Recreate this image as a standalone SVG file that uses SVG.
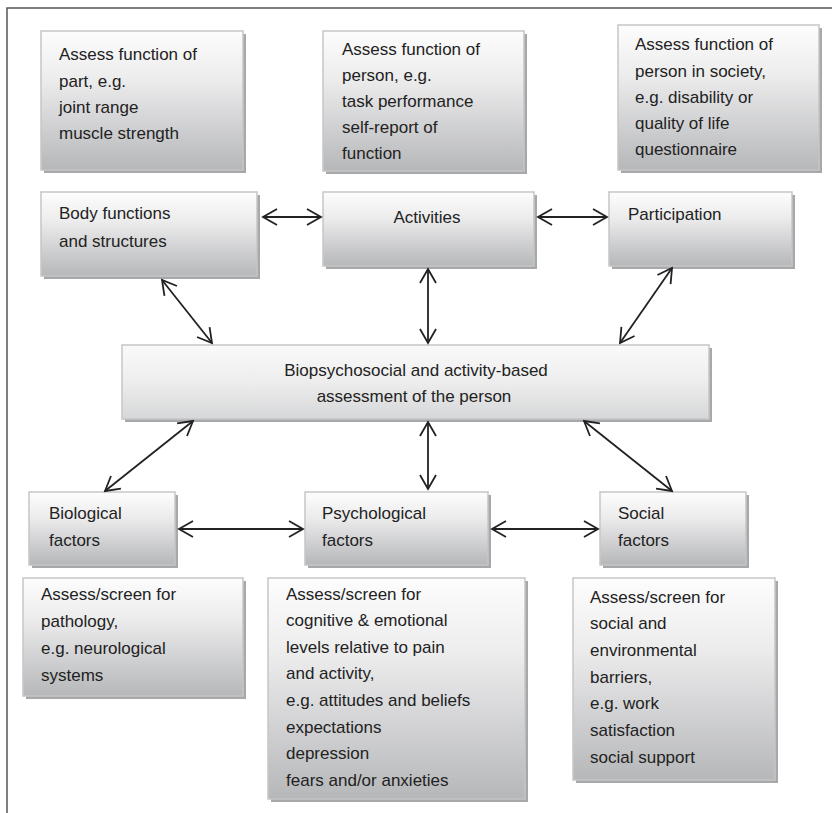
<svg xmlns="http://www.w3.org/2000/svg" width="832" height="813" viewBox="0 0 832 813">
  <style>
    .shadow { fill: #a7a8aa; }
    .box { fill: url(#boxGrad); stroke: #c6c6c8; stroke-width: 1.5; }
    .box-light { fill: url(#centerGrad); stroke: #c6c6c8; stroke-width: 1.5; }
    text { font-family: "Liberation Sans", Arial, sans-serif; font-size: 17px; fill: #222; }
    .link { stroke: #222; stroke-width: 1.8; fill: none; marker-start: url(#chev); marker-end: url(#chev); }
  </style>
  <defs>
    <linearGradient id="boxGrad" x1="0" y1="0" x2="0" y2="1">
      <stop offset="0" stop-color="#fdfdfd"/>
      <stop offset="0.35" stop-color="#ececed"/>
      <stop offset="1" stop-color="#b6b7b9"/>
    </linearGradient>
    <linearGradient id="centerGrad" x1="0" y1="0" x2="0" y2="1">
      <stop offset="0" stop-color="#fafafa"/>
      <stop offset="0.5" stop-color="#ededee"/>
      <stop offset="1" stop-color="#d6d7d8"/>
    </linearGradient>
    <marker id="chev" viewBox="-16 -10 18 20" refX="0" refY="0" markerWidth="18" markerHeight="20" markerUnits="userSpaceOnUse" orient="auto-start-reverse">
      <path d="M-14,-8 L0,0 L-14,8" fill="none" stroke="#222" stroke-width="1.8"/>
    </marker>
  </defs>

  <rect width="832" height="813" fill="#fff"/>
  <!-- frame -->
  <path d="M7,813 V8 H832" fill="none" stroke="#555" stroke-width="1.5"/>

  <g id="assess-part">
    <rect class="shadow" x="44" y="34" width="202" height="139"/>
    <rect class="box" x="41" y="31" width="202" height="139"/>
    <text x="59" y="60">Assess function of</text>
    <text x="59" y="87">part, e.g.</text>
    <text x="59" y="113">joint range</text>
    <text x="59" y="139">muscle strength</text>
  </g>

  <g id="assess-person">
    <rect class="shadow" x="326" y="34" width="201" height="140"/>
    <rect class="box" x="323" y="31" width="201" height="140"/>
    <text x="342" y="55">Assess function of</text>
    <text x="342" y="81">person, e.g.</text>
    <text x="342" y="107">task performance</text>
    <text x="342" y="133">self-report of</text>
    <text x="342" y="159">function</text>
  </g>

  <g id="assess-society">
    <rect class="shadow" x="621" y="28" width="201" height="145"/>
    <rect class="box" x="618" y="25" width="201" height="145"/>
    <text x="635" y="50">Assess function of</text>
    <text x="635" y="77">person in society,</text>
    <text x="635" y="103">e.g. disability or</text>
    <text x="635" y="129">quality of life</text>
    <text x="635" y="155">questionnaire</text>
  </g>

  <g id="body-functions">
    <rect class="shadow" x="44" y="195" width="216" height="84"/>
    <rect class="box" x="41" y="192" width="216" height="84"/>
    <text x="59" y="219">Body functions</text>
    <text x="59" y="247">and structures</text>
  </g>

  <g id="activities">
    <rect class="shadow" x="326" y="195" width="211" height="74"/>
    <rect class="box" x="323" y="192" width="211" height="74"/>
    <text x="427" y="223" text-anchor="middle">Activities</text>
  </g>

  <g id="participation">
    <rect class="shadow" x="612" y="195" width="183" height="74"/>
    <rect class="box" x="609" y="192" width="183" height="74"/>
    <text x="628" y="220">Participation</text>
  </g>

  <g id="assessment">
    <rect class="shadow" x="125" y="348" width="587" height="74"/>
    <rect class="box-light" x="122" y="345" width="587" height="74"/>
    <text x="416" y="376" text-anchor="middle">Biopsychosocial and activity-based</text>
    <text x="414" y="402" text-anchor="middle">assessment of the person</text>
  </g>

  <g id="biological">
    <rect class="shadow" x="32" y="495" width="146" height="73"/>
    <rect class="box" x="29" y="492" width="146" height="73"/>
    <text x="49" y="519">Biological</text>
    <text x="49" y="546">factors</text>
  </g>

  <g id="psychological">
    <rect class="shadow" x="308" y="495" width="183" height="73"/>
    <rect class="box" x="305" y="492" width="183" height="73"/>
    <text x="322" y="519">Psychological</text>
    <text x="322" y="546">factors</text>
  </g>

  <g id="social">
    <rect class="shadow" x="603" y="495" width="146" height="73"/>
    <rect class="box" x="600" y="492" width="146" height="73"/>
    <text x="618" y="519">Social</text>
    <text x="618" y="546">factors</text>
  </g>

  <g id="screen-biological">
    <rect class="shadow" x="26" y="581" width="220" height="118"/>
    <rect class="box" x="23" y="578" width="220" height="118"/>
    <text x="41" y="600">Assess/screen for</text>
    <text x="41" y="627">pathology,</text>
    <text x="41" y="654">e.g. neurological</text>
    <text x="41" y="681">systems</text>
  </g>

  <g id="screen-psychological">
    <rect class="shadow" x="271" y="581" width="257" height="221"/>
    <rect class="box" x="268" y="578" width="257" height="221"/>
    <text x="286" y="600">Assess/screen for</text>
    <text x="286" y="626">cognitive &amp; emotional</text>
    <text x="286" y="653">levels relative to pain</text>
    <text x="286" y="679">and activity,</text>
    <text x="286" y="706">e.g. attitudes and beliefs</text>
    <text x="286" y="733">expectations</text>
    <text x="286" y="759">depression</text>
    <text x="286" y="786">fears and/or anxieties</text>
  </g>

  <g id="screen-social">
    <rect class="shadow" x="576" y="581" width="202" height="202"/>
    <rect class="box" x="573" y="578" width="202" height="202"/>
    <text x="590" y="603">Assess/screen for</text>
    <text x="590" y="629">social and</text>
    <text x="590" y="656">environmental</text>
    <text x="590" y="683">barriers,</text>
    <text x="590" y="709">e.g. work</text>
    <text x="590" y="736">satisfaction</text>
    <text x="590" y="763">social support</text>
  </g>

  <g id="connectors">
    <line class="link" x1="263" y1="217" x2="321" y2="217"/>
    <line class="link" x1="538" y1="217" x2="607" y2="217"/>
    <line class="link" x1="162" y1="280" x2="212" y2="343"/>
    <line class="link" x1="428" y1="269" x2="428" y2="343"/>
    <line class="link" x1="672" y1="268" x2="620" y2="343"/>
    <line class="link" x1="193" y1="421" x2="105" y2="491"/>
    <line class="link" x1="428" y1="422" x2="428" y2="489"/>
    <line class="link" x1="584" y1="421" x2="672" y2="491"/>
    <line class="link" x1="179" y1="529" x2="303" y2="529"/>
    <line class="link" x1="492" y1="529" x2="598" y2="529"/>
  </g>
</svg>
